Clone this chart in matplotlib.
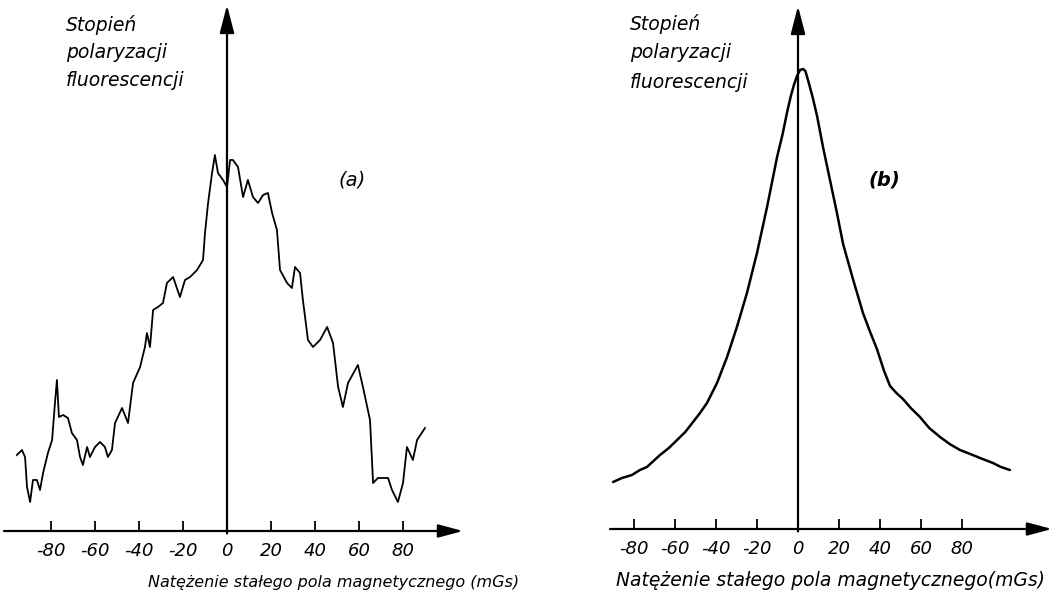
import matplotlib
matplotlib.use("Agg")
import matplotlib.pyplot as plt

# ---------------- data ----------------
# panel (a): noisy polarization curve (field in mGs, polarization arbitrary units)
field_a = [-95.5, -93.2, -91.8, -90.9, -89.5, -88.2, -86.4, -85.0, -83.6, -81.4,
           -79.5, -78.2, -77.3, -76.4, -74.5, -72.3, -70.5, -68.2, -66.8, -65.5,
           -63.6, -62.3, -60.0, -57.7, -55.5, -54.1, -52.3, -50.9, -47.7, -45.0,
           -42.7, -39.5, -37.3, -36.4, -35.0, -33.6, -31.4, -29.1, -27.3, -24.5,
           -21.4, -19.1, -16.8, -13.6, -10.9, -10.0, -8.6, -6.8, -5.5, -4.1,
           -1.8, 0.0, 1.4, 2.7, 5.0, 7.3, 9.5, 11.8, 14.1, 16.4,
           18.6, 20.5, 22.7, 24.1, 27.3, 29.5, 30.9, 33.2, 34.5, 36.8,
           39.1, 42.3, 45.5, 48.2, 50.5, 52.7, 55.0, 59.5, 61.8, 65.0,
           66.4, 68.6, 73.2, 75.0, 77.7, 80.0, 81.8, 84.5, 86.4, 90.0]
polar_a = [15.2, 16.2, 14.8, 8.8, 5.8, 10.2, 10.2, 8.2, 11.6, 15.6,
           18.2, 25.6, 30.2, 22.8, 23.2, 22.6, 19.6, 18.2, 14.8, 13.2,
           16.8, 14.8, 16.8, 17.8, 16.8, 14.8, 16.2, 21.6, 24.6, 21.6,
           29.6, 32.8, 36.8, 39.6, 36.8, 44.2, 44.8, 45.6, 49.6, 50.8,
           46.8, 50.2, 50.8, 52.2, 54.2, 59.6, 65.6, 71.6, 75.2, 71.6,
           70.2, 68.8, 74.2, 74.2, 72.8, 66.8, 70.2, 66.8, 65.6, 67.2,
           67.6, 63.6, 60.2, 52.2, 49.6, 48.6, 52.8, 51.6, 46.2, 38.2,
           36.8, 38.2, 40.8, 37.6, 28.8, 24.8, 29.6, 33.2, 28.8, 22.2,
           9.6, 10.6, 10.6, 8.2, 5.8, 9.6, 16.8, 14.2, 18.2, 20.6]

# panel (b): smooth polarization curve
field_b = [-90.2, -85.9, -81.0, -77.1, -73.7, -67.3, -63.0, -59.0, -55.0, -51.2,
           -47.8, -44.4, -39.5, -34.6, -29.8, -24.9, -20.0, -15.1, -10.2, -7.5,
           -5.4, -3.5, -2.0, -0.5, 1.0, 2.5, 3.6, 5.0, 7.0, 9.3,
           12.2, 15.6, 19.0, 22.0, 26.8, 31.7, 35.0, 38.5, 42.0, 44.9,
           48.0, 51.2, 55.0, 59.5, 64.0, 69.3, 74.0, 79.0, 84.0, 88.8,
           95.1, 99.0, 103.4]
polar_b = [9.4, 10.2, 10.8, 11.8, 12.4, 14.8, 16.2, 17.8, 19.4, 21.4,
           23.2, 25.2, 29.2, 34.4, 40.4, 47.2, 55.2, 64.4, 74.4, 79.0,
           83.2, 86.6, 88.8, 90.6, 91.8, 92.0, 91.6, 89.6, 86.6, 82.6,
           76.4, 69.8, 63.2, 57.0, 50.0, 43.2, 39.6, 36.0, 31.6, 28.6,
           27.2, 26.0, 24.2, 22.4, 20.2, 18.4, 17.0, 15.8, 15.0, 14.2,
           13.2, 12.4, 11.8]

tick_values = [-80, -60, -40, -20, 0, 20, 40, 60, 80]
tick_labels = ["-80", "-60", "-40", "-20", "0", "20", "40", "60", "80"]

ylabel_lines = ["Stopień", "polaryzacji", "fluorescencji"]
xlabel_a = "Natężenie stałego pola magnetycznego (mGs)"
xlabel_b = "Natężenie stałego pola magnetycznego(mGs)"
panel_tags = ["(a)", "(b)"]

# ---------------- figure ----------------
W, H = 1056, 599
fig = plt.figure(figsize=(W / 100, H / 100), dpi=100)
fig.patch.set_facecolor("white")

FONT = dict(family="DejaVu Sans", style="italic", color="black")


def fx(px):
    return px / W


def fy(py):
    return 1 - py / H


def make_panel(left_px, right_px, x0_px, y0_px, sx, sy, x_start, x_tip, y_tip):
    ax = fig.add_axes([fx(left_px), 0, (right_px - left_px) / W, 1])
    ax.set_xlim((left_px - x0_px) / sx, (right_px - x0_px) / sx)
    ax.set_ylim((y0_px - H) / sy, y0_px / sy)
    for s in ax.spines.values():
        s.set_visible(False)
    ax.spines["bottom"].set_position(("data", 0))
    ax.set_facecolor("none")
    ax.set_yticks([])
    ax.set_xticks(tick_values)
    ax.set_xticklabels(tick_labels, fontsize=13, fontstyle="italic")
    ax.tick_params(axis="x", direction="in", length=7, width=1.3, pad=8)
    # horizontal axis arrow
    ax.annotate("", xy=(x_tip, 0), xytext=(x_start, 0),
                arrowprops=dict(arrowstyle="-|>,head_length=0.75,head_width=0.2",
                                mutation_scale=20, lw=1.6, color="black",
                                shrinkA=0, shrinkB=0))
    # vertical axis arrow
    ax.annotate("", xy=(0, y_tip), xytext=(0, -0.5),
                arrowprops=dict(arrowstyle="-|>,head_length=0.85,head_width=0.22",
                                mutation_scale=20, lw=1.6, color="black",
                                shrinkA=0, shrinkB=0))
    return ax


# panel (a)
ax_a = make_panel(0, 520, 227, 531, 2.2, 5.0,
                  x_start=(4 - 227) / 2.2, x_tip=(463 - 227) / 2.2, y_tip=(531 - 5) / 5.0)
ax_a.plot(field_a, polar_a, color="black", lw=1.3, solid_joinstyle="round")

# panel (b)
ax_b = make_panel(520, 1056, 798, 529, 2.05, 5.0,
                  x_start=(610 - 798) / 2.05, x_tip=(1052 - 798) / 2.05, y_tip=(529 - 6) / 5.0)
ax_b.plot(field_b, polar_b, color="black", lw=1.8, solid_joinstyle="round",
          solid_capstyle="round")

# y-axis captions
for (x_px, ys) in [(66, (25, 53, 81)), (630, (24, 52, 82))]:
    for line, y_px in zip(ylabel_lines, ys):
        fig.text(fx(x_px), fy(y_px), line, fontsize=13.5, ha="left", va="center", **FONT)

# x-axis captions
fig.text(fx(334), fy(582), xlabel_a, fontsize=11.5, ha="center", va="center", **FONT)
fig.text(fx(830), fy(580), xlabel_b, fontsize=13.5, ha="center", va="center", **FONT)

# panel tags
fig.text(fx(352), fy(180), panel_tags[0], fontsize=14, ha="center", va="center", **FONT)
fig.text(fx(884), fy(180), panel_tags[1], fontsize=14, ha="center", va="center",
         fontweight="bold", **FONT)

fig.savefig("out.png", dpi=100, facecolor="white")
